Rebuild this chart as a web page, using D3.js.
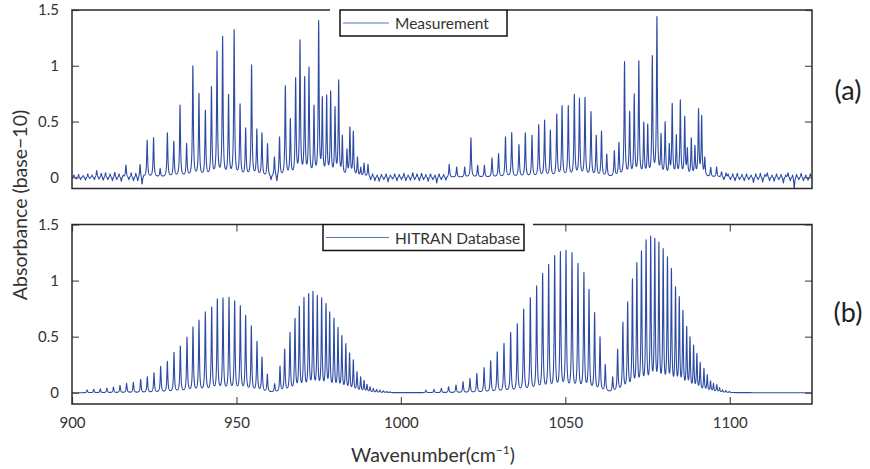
<!DOCTYPE html>
<html>
<head>
<meta charset="utf-8">
<script src="https://cdn.jsdelivr.net/npm/d3@7"></script>
<style>
  html, body { margin: 0; padding: 0; background: #fff; }
  svg { display: block; font-family: Lato, "Open Sans", sans-serif; }
</style>
</head>
<body>
<svg id="chart" width="870" height="469"></svg>
<script>
// ---------------- data ----------------
const xTicks = [900, 950, 1000, 1050, 1100];
const yTicks = [0, 0.5, 1, 1.5];
const xDomain = [900, 1125];
const yDomain = [-0.1, 1.5];

// Measurement: line centres (cm^-1) and peak absorbance
const measPeakWn = [916.4, 920.7, 922.85, 924.8, 926.8, 929.0, 930.95, 932.85, 934.85, 936.75,
  938.6, 940.55, 942.4, 944.1, 945.8, 947.6, 949.3, 951.1, 952.8, 954.6,
  956.2, 957.75, 959.45, 961.55, 963.1, 964.87, 966.39, 968.0, 969.33, 970.74,
  972.06, 973.58, 975.0, 976.11, 977.43, 978.65, 979.97, 981.08, 982.2, 983.6,
  984.5, 985.54, 986.8, 987.8, 988.8, 990.0,
  1014.7, 1016.96, 1019.4, 1021.3, 1023.35, 1025.4, 1027.7, 1029.7, 1031.8, 1033.7,
  1035.9, 1037.84, 1039.87, 1041.9, 1043.7, 1045.44, 1047.4, 1049.0, 1050.9, 1052.74,
  1054.3, 1055.98, 1057.8, 1059.4, 1061.0, 1062.6, 1064.9, 1066.3, 1068.0, 1069.55,
  1070.95, 1072.35, 1073.85, 1075.05, 1076.45, 1077.85, 1079.1, 1080.35, 1081.6, 1082.5,
  1083.75, 1084.97, 1086.3, 1087.1, 1088.3, 1089.4, 1090.5, 1091.45, 1092.4, 1094.2,
  1096.0, 1098.85];
const measPeakAbs = [0.11, 0.115, 0.333, 0.357, 0.08, 0.40, 0.324, 0.649, 0.305, 1.0,
  0.754, 0.604, 0.814, 1.135, 1.264, 0.745, 1.324, 0.66, 0.444, 1.009,
  0.434, 0.40, 0.303, 0.183, 0.363, 0.82, 0.528, 0.895, 1.234, 0.904,
  0.988, 0.649, 1.405, 0.724, 0.739, 0.775, 0.634, 0.874, 0.38, 0.255,
  0.453, 0.414, 0.183, 0.093, 0.129, 0.117,
  0.117, 0.093, 0.093, 0.354, 0.108, 0.108, 0.174, 0.213, 0.363, 0.402,
  0.294, 0.399, 0.378, 0.474, 0.513, 0.423, 0.568, 0.643, 0.643, 0.745,
  0.71, 0.718, 0.589, 0.378, 0.414, 0.21, 0.24, 0.315, 1.037, 0.592,
  0.748, 1.045, 0.495, 0.477, 1.092, 1.441, 0.395, 0.50, 0.305, 0.664,
  0.384, 0.694, 0.549, 0.267, 0.354, 0.288, 0.616, 0.556, 0.183, 0.09,
  0.093, 0.039];

// Measurement: small baseline wiggles (noise spikes / dips) seen in the picture
const measNoiseWn = [900.6, 901.3, 902.0, 902.6, 903.4, 904.1, 904.8, 905.4, 906.1, 906.8,
  907.5, 908.2, 908.9, 909.5, 910.2, 910.9, 911.6, 912.3, 913.0, 913.6,
  914.3, 915.0, 915.6, 917.3, 918.0, 918.7, 919.4, 920.0, 921.3, 921.9,
  960.5, 962.3,
  990.8, 991.4, 992.1, 992.8, 993.4, 994.1, 994.8, 995.5, 996.1, 996.8,
  997.5, 998.1, 998.8, 999.5, 1000.2, 1000.9, 1001.5, 1002.2, 1002.9, 1003.6,
  1004.2, 1004.9, 1005.6, 1006.3, 1006.9, 1007.6, 1008.3, 1009.0, 1009.7, 1010.4,
  1010.9, 1011.6, 1012.3, 1013.0, 1013.7,
  1097.5, 1098.2, 1099.5, 1100.2, 1100.9, 1101.6, 1102.3, 1103.0, 1103.7, 1104.4,
  1105.1, 1105.8, 1106.5, 1107.2, 1107.9, 1108.6, 1109.3, 1110.0, 1110.7, 1111.4,
  1112.1, 1112.8, 1113.5, 1114.2, 1114.9, 1115.6, 1116.3, 1117.0, 1117.7, 1118.4,
  1119.1, 1119.6, 1120.3, 1121.0, 1121.7, 1122.4, 1123.1, 1123.8, 1124.5];
const measNoiseAbs = [0.02, -0.015, 0.025, -0.02, 0.015, -0.025, 0.03, -0.01, 0.02, -0.02,
  0.06, -0.015, 0.035, -0.025, 0.04, -0.02, 0.03, -0.03, 0.045, -0.02,
  0.03, -0.035, 0.02, -0.02, 0.04, -0.03, 0.035, -0.03, -0.06, 0.02,
  -0.02, -0.03,
  -0.02, 0.03, -0.03, 0.02, -0.035, 0.025, -0.02, 0.03, -0.04, 0.02,
  -0.015, 0.03, -0.03, 0.025, -0.02, 0.035, -0.03, 0.02, -0.025, 0.04,
  -0.02, 0.03, -0.03, 0.035, -0.02, 0.025, -0.035, 0.03, -0.02, 0.02,
  -0.05, 0.03, -0.02, 0.025, -0.025,
  0.05, -0.02, 0.03, -0.02, 0.03, -0.03, 0.035, -0.02, 0.025, -0.03,
  0.03, -0.02, 0.02, -0.045, 0.03, -0.02, 0.035, -0.04, 0.025, 0.04,
  -0.03, 0.02, -0.035, 0.03, -0.02, 0.025, -0.05, 0.02, 0.04, -0.03,
  0.02, -0.1, 0.025, -0.02, 0.035, -0.03, 0.02, -0.025, 0.03];

// HITRAN database: line centres (cm^-1) and peak absorbance
const hitranPeakWn = [904.6, 906.6, 908.6, 910.6, 912.6, 914.6, 916.6, 918.65, 920.88, 922.9,
  924.93, 926.96, 928.99, 931.01, 932.94, 934.97, 936.79, 938.61, 940.54, 942.47,
  944.19, 945.91, 947.74, 949.46, 951.18, 952.8, 954.53, 956.25, 957.77, 959.39,
  961.62, 963.24, 964.66, 966.28, 967.8, 969.12, 970.53, 971.96, 973.27, 974.59,
  975.91, 977.23, 978.35, 979.66, 980.88, 982.05, 983.25, 984.4, 985.54, 986.66,
  987.77, 988.79, 989.7, 990.61, 991.6, 992.6, 993.6, 994.7, 995.7, 996.7,
  1007.6, 1010.07, 1012.3, 1014.5, 1016.76, 1018.9, 1021.0, 1023.1, 1025.3, 1027.3,
  1029.3, 1031.35, 1033.38, 1035.4, 1037.33, 1039.36, 1041.28, 1043.1, 1044.93, 1046.76,
  1048.5, 1050.2, 1052.03, 1053.85, 1055.65, 1057.2, 1058.9, 1060.55, 1062.15, 1064.4,
  1065.9, 1067.5, 1068.95, 1070.4, 1071.75, 1073.15, 1074.55, 1075.95, 1077.2, 1078.45,
  1079.75, 1081.05, 1082.25, 1083.5, 1084.65, 1085.75, 1086.9, 1087.9, 1089.0, 1090.0,
  1091.0, 1092.15, 1093.15, 1094.15, 1095.05, 1096.05, 1096.9, 1097.8, 1098.8, 1099.9];
const hitranPeakAbs = [0.025, 0.03, 0.035, 0.04, 0.05, 0.065, 0.084, 0.093, 0.119, 0.143,
  0.179, 0.235, 0.28, 0.36, 0.417, 0.497, 0.587, 0.649, 0.721, 0.765,
  0.837, 0.846, 0.852, 0.819, 0.777, 0.691, 0.596, 0.459, 0.319, 0.167,
  0.081, 0.238, 0.39, 0.539, 0.664, 0.771, 0.852, 0.884, 0.905, 0.869,
  0.846, 0.798, 0.721, 0.667, 0.584, 0.51, 0.438, 0.357, 0.295, 0.188,
  0.143, 0.110, 0.075, 0.054, 0.039, 0.030, 0.024, 0.018, 0.012, 0.008,
  0.024, 0.03, 0.039, 0.054, 0.069, 0.098, 0.128, 0.173, 0.224, 0.286,
  0.366, 0.441, 0.536, 0.616, 0.747, 0.848, 0.953, 1.066, 1.146, 1.224,
  1.259, 1.27, 1.25, 1.155, 1.075, 0.923, 0.715, 0.50, 0.253, 0.143,
  0.39, 0.631, 0.81, 1.015, 1.161, 1.265, 1.363, 1.397, 1.378, 1.343,
  1.286, 1.212, 1.11, 0.945, 0.857, 0.736, 0.592, 0.5, 0.425, 0.352,
  0.272, 0.218, 0.162, 0.106, 0.084, 0.072, 0.045, 0.027, 0.02, 0.012];

const lineHalfWidth = 0.16; // Lorentzian HWHM, cm^-1

// ---------------- build spectra from line lists ----------------
function lor(dx) { const g = lineHalfWidth; return (g * g) / (dx * dx + g * g); }

function buildSpectrum(centers, heights) {
  // amplitudes such that the summed profile reaches the read peak heights
  let amp = heights.slice();
  for (let it = 0; it < 8; it++) {
    amp = heights.map((h, i) => {
      let s = 0;
      for (let j = 0; j < centers.length; j++) if (j !== i) s += amp[j] * lor(centers[i] - centers[j]);
      return h - s;
    });
  }
  const grid = d3.range(xDomain[0], xDomain[1] + 1e-9, 0.02).concat(centers);
  grid.sort((a, b) => a - b);
  return grid.map(x => {
    let s = 0;
    for (let j = 0; j < centers.length; j++) s += amp[j] * lor(x - centers[j]);
    return [x, s];
  });
}

const measSpectrum = buildSpectrum(measPeakWn.concat(measNoiseWn), measPeakAbs.concat(measNoiseAbs));
const hitranSpectrum = buildSpectrum(hitranPeakWn, hitranPeakAbs);

// ---------------- drawing ----------------
const svg = d3.select("#chart");
const left = 72, right = 812;
const lineColor = "#2d4ba4";
const frameColor = "#2a2a2a";
const textColor = "#333";

const x = d3.scaleLinear().domain(xDomain).range([left, right]);

const panels = [
  { top: 10, bottom: 188.5, data: measSpectrum, legend: "Measurement",
    legBox: [340, 507], legClear: [330, 507], tag: "(a)", tagY: 100, xAxis: false },
  { top: 224.5, bottom: 404, data: hitranSpectrum, legend: "HITRAN Database",
    legBox: [323, 524], legClear: [323, 533], tag: "(b)", tagY: 322, xAxis: true }
];

panels.forEach(p => {
  const y = d3.scaleLinear().domain(yDomain).range([p.bottom, p.top]);
  const g = svg.append("g");

  const cid = "clip" + Math.round(p.top);
  svg.append("clipPath").attr("id", cid).append("rect")
    .attr("x", left).attr("y", p.top).attr("width", right - left).attr("height", p.bottom - p.top);

  g.append("path")
    .datum(p.data)
    .attr("clip-path", `url(#${cid})`)
    .attr("fill", "none")
    .attr("stroke", lineColor)
    .attr("stroke-width", 1.1)
    .attr("stroke-linejoin", "round")
    .attr("d", d3.line().x(d => x(d[0])).y(d => y(d[1])));

  const yl = d3.axisLeft(y).tickValues(yTicks).tickSizeInner(-7).tickSizeOuter(0).tickPadding(13)
    .tickFormat(d3.format("~g"));
  const ya = g.append("g").attr("transform", `translate(${left},0)`).call(yl);
  const yr = d3.axisRight(y).tickValues(yTicks).tickSizeInner(-7).tickSizeOuter(0).tickFormat("");
  const yb = g.append("g").attr("transform", `translate(${right},0)`).call(yr);
  [ya, yb].forEach(a => {
    a.select(".domain").remove();
    a.selectAll("line").attr("stroke", "#555").attr("stroke-width", 1.2);
    a.selectAll("text").attr("fill", textColor).style("font-size", "15px")
      .style("font-family", "Lato, 'Open Sans', sans-serif");
  });

  if (p.xAxis) {
    const xb = d3.axisBottom(x).tickValues(xTicks).tickSizeInner(-7).tickSizeOuter(0).tickPadding(13)
      .tickFormat(d3.format("d"));
    const xa = g.append("g").attr("transform", `translate(0,${p.bottom})`).call(xb);
    const xt = d3.axisTop(x).tickValues(xTicks).tickSizeInner(-7).tickSizeOuter(0).tickFormat("");
    const xc = g.append("g").attr("transform", `translate(0,${p.top})`).call(xt);
    [xa, xc].forEach(a => {
      a.select(".domain").remove();
      a.selectAll("line").attr("stroke", "#555").attr("stroke-width", 1.2);
      a.selectAll("text").attr("fill", textColor).style("font-size", "15px")
        .style("font-family", "Lato, 'Open Sans', sans-serif");
    });
  }

  g.append("rect")
    .attr("x", left).attr("y", p.top).attr("width", right - left).attr("height", p.bottom - p.top)
    .attr("fill", "none").attr("stroke", frameColor).attr("stroke-width", 1.5);

  const lg = svg.append("g");
  lg.append("rect").attr("x", p.legClear[0]).attr("y", p.top - 3)
    .attr("width", p.legClear[1] - p.legClear[0]).attr("height", 29).attr("fill", "#fff");
  lg.append("rect").attr("x", p.legBox[0]).attr("y", p.top)
    .attr("width", p.legBox[1] - p.legBox[0]).attr("height", 26)
    .attr("fill", "#fff").attr("stroke", "#111").attr("stroke-width", 1.5);
  lg.append("line").attr("x1", p.legBox[0] + 3).attr("x2", 389)
    .attr("y1", p.top + 13).attr("y2", p.top + 13)
    .attr("stroke", "#5a72b8").attr("stroke-width", 1);
  lg.append("text").attr("x", 395).attr("y", p.top + 13).attr("dominant-baseline", "central")
    .attr("fill", textColor).style("font-size", "15.5px").text(p.legend);

  svg.append("text").attr("x", 848).attr("y", p.tagY).attr("text-anchor", "middle")
    .attr("fill", "#222").style("font-size", "27px").text(p.tag);
});

svg.append("text")
  .attr("transform", "translate(27,205) rotate(-90)")
  .attr("text-anchor", "middle").attr("fill", textColor)
  .style("font-size", "19.5px").text("Absorbance (base\u221210)");

const xl = svg.append("text").attr("x", 433).attr("y", 462).attr("text-anchor", "middle")
  .attr("fill", textColor).style("font-size", "19.5px");
xl.append("tspan").text("Wavenumber(cm");
xl.append("tspan").attr("dy", -8).style("font-size", "12px").text("\u22121");
xl.append("tspan").attr("dy", 8).text(")");
</script>
</body>
</html>
